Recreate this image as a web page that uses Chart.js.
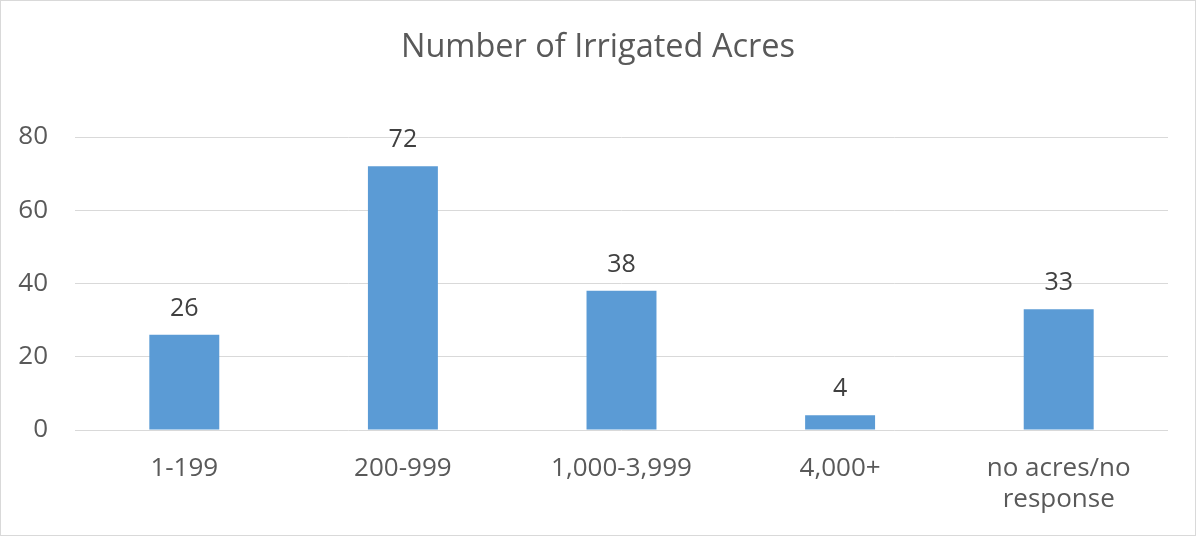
<!DOCTYPE html>
<html>
<head>
<meta charset="utf-8">
<script src="https://cdn.jsdelivr.net/npm/chart.js@4"></script>
<style>
html,body{margin:0;padding:0;background:#fff;}
#wrap{width:1196px;height:537px;position:relative;}
</style>
</head>
<body>
<div id="wrap"><canvas id="c"></canvas></div>
<script>
const categories = ["1-199", "200-999", "1,000-3,999", "4,000+", ["no acres/no", "response"]];
const counts = [26, 72, 38, 4, 33];
const yTicks = [0, 20, 40, 60, 80];
const titleText = "Number of Irrigated Acres";

const FONT = "'Open Sans', 'Noto Sans', sans-serif";

const borderPlugin = {
  id: 'outerBorder',
  beforeDraw(chart) {
    const ctx = chart.ctx;
    ctx.save();
    ctx.fillStyle = '#ffffff';
    ctx.fillRect(0, 0, chart.width, chart.height);
    ctx.strokeStyle = '#d9d9d9';
    ctx.lineWidth = 1;
    ctx.strokeRect(0.5, 0.5, chart.width - 1, chart.height - 2);
    ctx.restore();
  }
};

const valueLabels = {
  id: 'valueLabels',
  afterDatasetsDraw(chart) {
    const ctx = chart.ctx;
    ctx.save();
    ctx.font = "25px " + FONT;
    ctx.fillStyle = '#404040';
    ctx.textAlign = 'center';
    ctx.textBaseline = 'middle';
    chart.data.datasets.forEach((ds, i) => {
      const meta = chart.getDatasetMeta(i);
      meta.data.forEach((bar, j) => {
        ctx.fillText(String(ds.data[j]), bar.x, bar.y - 26);
      });
    });
    ctx.restore();
  }
};

new Chart(document.getElementById('c'), {
  type: 'bar',
  data: {
    labels: categories,
    datasets: [{
      data: counts,
      backgroundColor: '#5b9bd5',
      borderWidth: 0,
      barPercentage: 0.32,
      categoryPercentage: 1.0
    }]
  },
  options: {
    responsive: true,
    maintainAspectRatio: false,
    animation: false,
    layout: { padding: 0 },
    plugins: {
      legend: { display: false },
      tooltip: { enabled: false },
      title: {
        display: true,
        text: titleText,
        color: '#595959',
        font: { family: FONT, size: 32.5, weight: 'normal', lineHeight: 1.2 },
        padding: { top: 28, bottom: 70 }
      }
    },
    scales: {
      x: {
        grid: { display: false },
        border: { display: false },
        ticks: {
          color: '#595959',
          font: { family: FONT, size: 26, lineHeight: 1.2 },
          padding: 15,
          maxRotation: 0,
          autoSkip: false
        },
        afterFit(scale) { scale.height = 107; }
      },
      y: {
        min: 0,
        max: 80,
        grid: { color: '#d9d9d9', lineWidth: 1, drawTicks: false },
        border: { display: false },
        afterBuildTicks(scale) { scale.ticks = yTicks.map(v => ({ value: v })); },
        ticks: {
          color: '#595959',
          font: { family: FONT, size: 26 },
          padding: 27
        },
        afterFit(scale) { scale.width = 75; }
      },
      yRightSpacer: {
        position: 'right',
        min: 0,
        max: 80,
        grid: { display: false },
        border: { display: false },
        ticks: { display: false },
        afterFit(scale) { scale.width = 28; }
      }
    }
  },
  plugins: [borderPlugin, valueLabels]
});
</script>
</body>
</html>
